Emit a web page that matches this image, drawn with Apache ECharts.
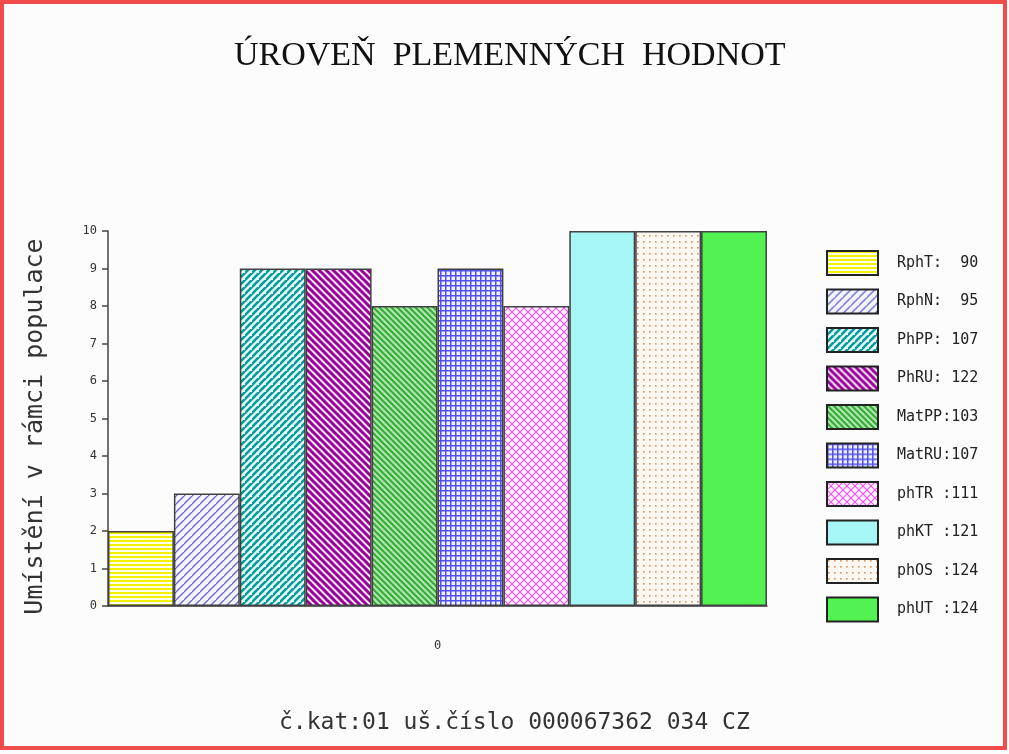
<!DOCTYPE html>
<html>
<head>
<meta charset="utf-8">
<title>Úroveň plemenných hodnot</title>
<script src="https://cdn.jsdelivr.net/npm/echarts@6/dist/echarts.min.js"></script>
<style>
  html, body { margin: 0; padding: 0; background: #fcfcfc; }
  #graf { width: 1009px; height: 754px; }
</style>
</head>
<body>
<div id="graf"></div>
<script>
// data
var kategorie = ['0'];
var nazvy = ['RphT:', 'RphN:', 'PhPP:', 'PhRU:', 'MatPP:', 'MatRU:', 'phTR :', 'phKT :', 'phOS :', 'phUT :'];
var umisteni = [2, 3, 9, 9, 8, 9, 8, 10, 10, 10];
var hodnoty = [90, 95, 107, 122, 103, 107, 111, 121, 124, 124];
var osaY = [0, 1, 2, 3, 4, 5, 6, 7, 8, 9, 10];

// vzory vyplne (canvas pattern)
function vzor(typ, barva, pozadi) {
	var c = document.createElement('canvas');
	var s = 7;
	if (typ == 'vodorovne') s = 4;
	if (typ == 'sikmo') s = 8;
	if (typ == 'mrizka') s = 5;
	if (typ == 'krizove') s = 8;
	if (typ == 'zpetne2') s = 6;
	if (typ == 'tecky') s = 6;
	c.width = s; c.height = s;
	var g = c.getContext('2d');
	g.fillStyle = pozadi;
	g.fillRect(0, 0, s, s);
	g.strokeStyle = barva;
	g.fillStyle = barva;
	if (typ == 'vodorovne') {
		g.fillRect(0, 0, s, 2);
	}
	else if (typ == 'sikmo' || typ == 'lomitko') {
		g.lineWidth = (typ == 'sikmo') ? 1.4 : 2.6;
		g.beginPath();
		g.moveTo(-1, s + 1); g.lineTo(s + 1, -1);
		g.moveTo(-s - 1, s + 1); g.lineTo(1, -1);
		g.moveTo(s - 1, 2 * s + 1); g.lineTo(2 * s + 1, s - 1);
		g.stroke();
	}
	else if (typ == 'zpetne' || typ == 'zpetne2') {
		g.lineWidth = (typ == 'zpetne') ? 3 : 2.2;
		g.beginPath();
		g.moveTo(-1, -1); g.lineTo(s + 1, s + 1);
		g.moveTo(-s - 1, -1); g.lineTo(1, s + 1);
		g.moveTo(s - 1, -1); g.lineTo(2 * s + 1, s + 1);
		g.stroke();
	}
	else if (typ == 'mrizka') {
		g.fillRect(0, 0, s, 1.5);
		g.fillRect(0, 0, 1.5, s);
	}
	else if (typ == 'krizove') {
		g.lineWidth = 1.1;
		g.beginPath();
		g.moveTo(0, 0); g.lineTo(s, s);
		g.moveTo(0, s); g.lineTo(s, 0);
		g.stroke();
	}
	else if (typ == 'tecky') {
		g.fillRect(1, 1, 1.6, 1.6);
	}
	return { image: c, repeat: 'repeat' };
}

var barvy = [
	vzor('vodorovne', '#f2f200', '#fdfdec'),
	vzor('sikmo', '#6a6acc', '#f4f4ff'),
	vzor('lomitko', '#0a9a9a', '#e4fcfc'),
	vzor('zpetne', '#990099', '#fbe8fb'),
	vzor('zpetne2', '#3aaa3a', '#aee8ae'),
	vzor('mrizka', '#5050ee', '#f0f0ff'),
	vzor('krizove', '#f050f0', '#fff4ff'),
	'#a6f6f6',
	vzor('tecky', '#d49464', '#fdf8f2'),
	'#52f252'
];

var dom = document.getElementById("graf");
var myChart = echarts.init(dom);
var option = null;

var serie = [];
for (var i = 0; i < nazvy.length; i++) {
	serie.push({
		name: nazvy[i],
		type: 'bar',
		barGap: '0%',
		barCategoryGap: '0%',
		data: [umisteni[i]],
		itemStyle: {
			color: barvy[i],
			borderColor: '#404040',
			borderWidth: 1.5
		}
	});
}

option = {
	backgroundColor: '#fcfcfc',
	animation: false,
	title: [
		{
			text: 'ÚROVEŇ  PLEMENNÝCH  HODNOT',
			left: 229,
			top: 34,
			textStyle: { fontFamily: 'Liberation Serif', fontSize: 34, fontWeight: 'normal', color: '#111' }
		},
		{
			text: 'č.kat:01 uš.číslo 000067362 034 CZ',
			left: 274,
			top: 707,
			textStyle: { fontFamily: 'DejaVu Sans Mono', fontSize: 23, fontWeight: 'normal', color: '#333' }
		}
	],
	legend: {
		orient: 'vertical',
		left: 821,
		top: 245,
		icon: 'rect',
		itemWidth: 51,
		itemHeight: 24,
		itemGap: 12.5,
		itemStyle: { borderColor: '#222', borderWidth: 2 },
		data: nazvy,
		formatter: function (name) {
			var idx = nazvy.indexOf(name);
			var v = String(hodnoty[idx]);
			while (name.length + v.length < 9) v = ' ' + v;
			return name + v;
		},
		textStyle: {
			fontFamily: 'DejaVu Sans Mono',
			fontSize: 15,
			color: '#222',
			padding: [0, 0, 0, 14]
		}
	},
	grid: {
		left: 108,
		right: 242,
		top: 231,
		bottom: 148
	},
	xAxis: {
		type: 'category',
		data: kategorie,
		axisLine: { lineStyle: { color: '#333', width: 1.5 } },
		axisTick: { show: false },
		axisLabel: { margin: 34, fontFamily: 'DejaVu Sans Mono', fontSize: 12, color: '#333' }
	},
	yAxis: {
		type: 'value',
		min: osaY[0],
		max: osaY[osaY.length - 1],
		interval: 1,
		name: 'Umístění v rámci populace',
		nameLocation: 'middle',
		nameGap: 60,
		nameTextStyle: { fontFamily: 'DejaVu Sans Mono', fontSize: 25, color: '#333', padding: [0, 16, 0, 0] },
		splitLine: { show: false },
		axisLine: { show: true, lineStyle: { color: '#444', width: 1.5 } },
		axisTick: { show: true, length: 6, lineStyle: { color: '#444', width: 1.5 } },
		axisLabel: { margin: 11, fontFamily: 'DejaVu Sans Mono', fontSize: 12, color: '#333' }
	},
	graphic: [
		{
			type: 'rect',
			shape: { x: 2, y: 2, width: 1003, height: 746 },
			style: { fill: 'none', stroke: '#f04c4c', lineWidth: 4 },
			silent: true
		}
	],
	series: serie
};

if (option && typeof option === "object") {
	myChart.setOption(option, true);
}
</script>
</body>
</html>
